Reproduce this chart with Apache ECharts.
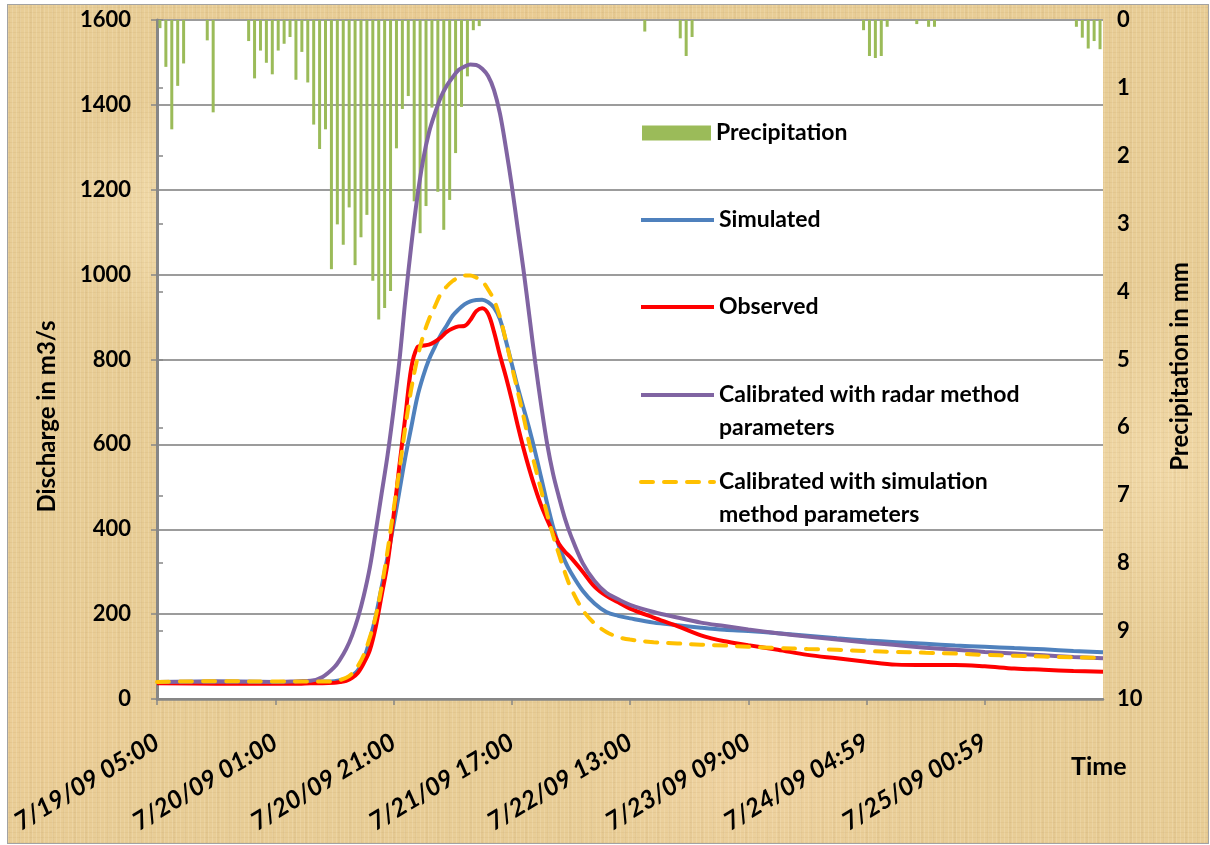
<!DOCTYPE html>
<html>
<head>
<meta charset="utf-8">
<title>Discharge and precipitation</title>
<script src="https://cdn.jsdelivr.net/npm/echarts@6/dist/echarts.min.js"></script>
<style>
  html, body { margin: 0; padding: 0; background: #ffffff; }
  #wrap { position: relative; width: 1210px; height: 845px; overflow: hidden; }
  /* parchment panel behind the chart */
  #paper {
    position: absolute; left: 7px; top: 4px; width: 1200px; height: 838px;
    border: 1px solid #a3a3a3;
    background-color: #e8cd96;
    background-image:
      repeating-linear-gradient(90deg, rgba(255,250,230,0.16) 0 1px, rgba(0,0,0,0) 1px 4px),
      repeating-linear-gradient(0deg, rgba(150,110,50,0.07) 0 1px, rgba(0,0,0,0) 1px 5px),
      repeating-linear-gradient(90deg, rgba(140,100,40,0.05) 0 2px, rgba(0,0,0,0) 2px 11px),
      radial-gradient(ellipse 260px 180px at 18% 25%, rgba(255,238,200,0.55), rgba(255,238,200,0) 70%),
      radial-gradient(ellipse 300px 160px at 62% 92%, rgba(245,215,170,0.55), rgba(245,215,170,0) 70%),
      radial-gradient(ellipse 220px 260px at 96% 55%, rgba(250,228,185,0.5), rgba(250,228,185,0) 70%),
      radial-gradient(ellipse 200px 200px at 3% 85%, rgba(240,205,150,0.5), rgba(240,205,150,0) 70%),
      radial-gradient(ellipse 260px 120px at 40% 4%, rgba(236,200,140,0.5), rgba(236,200,140,0) 70%);
  }
  #chart { position: absolute; left: 0; top: 0; width: 1210px; height: 845px; }
</style>
</head>
<body>
<div id="wrap">
  <div id="paper"></div>
  <div id="chart"></div>
</div>
<script>
// Hourly rainfall (mm), one value per hour starting 7/19/09 05:00
const precipitation = [
  0.12, 0.69, 1.61, 0.97, 0.64, 0, 0, 0, 0.30, 1.36,
  0, 0, 0, 0, 0, 0.31, 0.86, 0.45, 0.63, 0.80,
  0.45, 0.35, 0.25, 0.88, 0.47, 0.92, 1.54, 1.90, 1.61, 3.67,
  3.01, 3.31, 2.76, 3.61, 3.20, 2.87, 3.84, 4.41, 4.24, 3.99,
  1.89, 1.31, 1.12, 2.67, 3.14, 2.74, 1.29, 2.53, 3.09, 2.65,
  1.96, 1.28, 0.83, 0.15, 0.09, 0, 0, 0, 0, 0,
  0, 0, 0, 0, 0, 0, 0, 0, 0, 0,
  0, 0, 0, 0, 0, 0, 0, 0, 0, 0,
  0, 0, 0.17, 0, 0, 0, 0, 0, 0.27, 0.53,
  0.25, 0, 0, 0, 0, 0, 0, 0, 0, 0,
  0, 0, 0, 0, 0, 0, 0, 0, 0, 0,
  0, 0, 0, 0, 0, 0, 0, 0, 0, 0.15,
  0.53, 0.56, 0.53, 0.10, 0, 0, 0, 0, 0.06, 0,
  0.10, 0.10, 0, 0, 0, 0, 0, 0, 0, 0,
  0, 0, 0, 0, 0, 0, 0, 0, 0, 0,
  0, 0, 0, 0, 0, 0.10, 0.26, 0.42, 0.31, 0.43
];

// Hours since 7/19/09 05:00 at which the hydrographs are given
const hours = [
  0, 10, 20, 24, 26, 28, 30, 31, 32, 33, 34, 35, 36, 37, 38, 39, 40, 41, 42, 43,
  44, 45, 46, 47, 48, 49, 50, 51, 52, 53, 54, 55, 56, 57, 58, 59, 60, 61, 62, 63,
  64, 65, 66, 67, 68, 69, 70, 72, 74, 76, 78, 80, 84, 88, 92, 96, 100, 105, 110, 115,
  120, 125, 130, 135, 140, 145, 150, 155, 160
];

// Discharge (m3/s)
const simulated = [
  40, 41, 40, 40, 40, 41, 42, 44, 48, 55, 68, 95, 140, 195, 265, 335, 410, 490, 570, 640,
  710, 760, 800, 830, 858, 880, 903, 918, 930, 937, 940, 941, 935, 922, 895, 845, 790, 735, 685, 635,
  580, 520, 460, 405, 360, 325, 298, 255, 225, 205, 196, 190, 180, 174, 168, 163, 160, 155, 149, 143,
  138, 134, 130, 126, 123, 120, 117, 113, 110
];
const observed = [
  37, 36, 36, 36, 37, 37, 38, 40, 43, 50, 62, 85, 115, 170, 245, 320, 430, 550, 665, 780,
  828, 833, 835, 842, 852, 865, 873, 878, 879, 893, 914, 921, 908, 865, 810, 760, 705, 645, 590, 540,
  495, 455, 422, 392, 365, 347, 333, 300, 265, 243, 228, 213, 192, 172, 150, 136, 127, 116, 104, 96,
  88, 81, 80, 80, 77, 72, 69, 66, 64
];
const radarCalibrated = [
  40, 41, 40, 42, 43, 52, 75, 94, 118, 150, 192, 245, 310, 395, 485, 575, 680, 797, 940, 1068,
  1180, 1270, 1335, 1380, 1418, 1445, 1465, 1482, 1490, 1495, 1494, 1485, 1468, 1435, 1380, 1300, 1210, 1110, 1010, 900,
  790, 690, 600, 530, 475, 425, 385, 320, 278, 250, 235, 222, 205, 192, 180, 172, 164, 155, 147, 140,
  133, 127, 121, 116, 111, 107, 103, 99, 96
];
const simulationCalibrated = [
  40, 42, 41, 41, 41, 41, 42, 45, 50, 60, 78, 105, 145, 195, 265, 350, 445, 540, 640, 730,
  800, 855, 895, 925, 955, 972, 985, 993, 998, 998, 993, 985, 965, 940, 900, 845, 785, 725, 665, 600,
  545, 490, 435, 385, 340, 298, 262, 210, 178, 158, 146, 140, 134, 131, 128, 126, 123, 120, 118, 116,
  113, 111, 109, 107, 104, 102, 100, 98, 97
];

// Date labels every 20 hours along the time axis
const timeLabels = [
  '7/19/09 05:00', '7/20/09 01:00', '7/20/09 21:00', '7/21/09 17:00',
  '7/22/09 13:00', '7/23/09 09:00', '7/24/09 04:59', '7/25/09 00:59'
];

const NAMES = {
  precip: 'Precipitation',
  sim: 'Simulated',
  obs: 'Observed',
  radar: 'Calibrated with radar method parameters',
  simcal: 'Calibrated with simulation method parameters'
};

const FONT = 'Lato, "Open Sans", sans-serif';
const AXIS_GREY = '#878787';
const LEGEND_FONT = 23;
const LEGEND_LINE = 33;

const pair = (vals) => hours.map((h, i) => [h, vals[i]]);
const precipBars = precipitation.map((v, i) => [i + 0.5, v]);

const textBase = { fontFamily: FONT, fontWeight: 'bold', color: '#000', fontSize: 20 };

// one legend block per entry so each sits at its own height, like the stacked key
function legendEntry(name, centerY, opts) {
  const twoLines = opts && opts.breakAt;
  const lh = twoLines ? LEGEND_LINE : 28;
  const base = {
    data: [name],
    orient: 'vertical',
    left: 639,
    top: twoLines ? centerY - 1.5 * lh : centerY - lh / 2,
    padding: 0,
    itemWidth: 73,
    itemHeight: 14,
    selectedMode: false,
    textStyle: Object.assign({}, textBase, { fontSize: LEGEND_FONT, lineHeight: lh }),
    lineStyle: { width: 4 },
    itemStyle: { opacity: 0 }
  };
  if (twoLines) {
    // empty first row keeps the key line level with the first row of text
    base.formatter = (n) => '\n' + n.slice(0, opts.breakAt) + '\n' + n.slice(opts.breakAt + 1);
  }
  return Object.assign(base, (opts && opts.extra) || {});
}

const simcalBreak = NAMES.simcal.lastIndexOf(' ', NAMES.simcal.lastIndexOf(' ') - 1);

const chart = echarts.init(document.getElementById('chart'), null, { renderer: 'canvas' });

chart.setOption({
  backgroundColor: 'transparent',
  animation: false,
  title: {
    text: 'Time',
    left: 1071,
    top: 754,
    padding: 0,
    textStyle: Object.assign({}, textBase, { fontSize: 25 })
  },
  legend: [
    legendEntry(NAMES.precip, 133, { extra: { left: 642, itemWidth: 69, itemHeight: 15, icon: 'rect', itemStyle: {} } }),
    legendEntry(NAMES.sim, 220),
    legendEntry(NAMES.obs, 307),
    legendEntry(NAMES.radar, 395, { breakAt: NAMES.radar.lastIndexOf(' ') }),
    legendEntry(NAMES.simcal, 482, { breakAt: simcalBreak })
  ],
  grid: {
    left: 157, right: 107, top: 20, bottom: 146,
    show: true, backgroundColor: '#ffffff', borderWidth: 0
  },
  xAxis: [{
    type: 'value',
    min: 0, max: 160, interval: 20,
    axisLine: { show: true, onZero: false, lineStyle: { color: AXIS_GREY, width: 2 } },
    axisTick: { show: true, length: 6, lineStyle: { color: AXIS_GREY, width: 1.5 } },
    splitLine: { show: false },
    axisLabel: {
      rotate: 31,
      margin: 41,
      fontFamily: FONT, fontWeight: 'bold', fontStyle: 'italic', fontSize: 25, color: '#000',
      showMaxLabel: false,
      formatter: (v) => timeLabels[Math.round(v / 20)] || ''
    }
  }, {
    type: 'value', position: 'top', min: 0, max: 160,
    axisLine: { show: true, lineStyle: { color: AXIS_GREY, width: 2.5 } },
    axisTick: { show: false }, axisLabel: { show: false }, splitLine: { show: false }
  }],
  yAxis: [{
    type: 'value',
    position: 'left',
    min: 0, max: 1600, interval: 200,
    name: 'Discharge in m3/s',
    nameLocation: 'middle',
    nameRotate: 90,
    nameGap: 98,
    nameTextStyle: Object.assign({}, textBase, { fontSize: 24, padding: [0, 114, 0, 0] }),
    axisLine: { show: true, lineStyle: { color: AXIS_GREY, width: 2 } },
    axisTick: { show: true, length: 6, lineStyle: { color: AXIS_GREY, width: 1.5 } },
    splitLine: { show: true, lineStyle: { color: '#9c9c9c', width: 2 } },
    axisLabel: Object.assign({}, textBase, { fontSize: 22, margin: 26, formatter: (v) => String(v) })
  }, {
    type: 'value',
    position: 'right',
    inverse: true,
    min: 0, max: 10, interval: 1,
    name: 'Precipitation in mm',
    nameLocation: 'middle',
    nameRotate: 90,
    nameGap: 65,
    nameTextStyle: Object.assign({}, textBase, { fontSize: 24, padding: [0, 14, 0, 0] }),
    axisLine: { show: true, lineStyle: { color: AXIS_GREY, width: 3 } },
    axisTick: { show: true, length: 6, lineStyle: { color: AXIS_GREY, width: 1.5 } },
    splitLine: { show: false },
    axisLabel: Object.assign({}, textBase, { fontSize: 22, margin: 14 })
  }],
  series: [{
    name: NAMES.precip,
    type: 'bar',
    xAxisIndex: 0,
    yAxisIndex: 1,
    barWidth: 3,
    itemStyle: { color: '#9bbb59' },
    data: precipBars,
    z: 1
  }, {
    name: NAMES.sim,
    type: 'line',
    smooth: 0.35,
    symbol: 'none',
    lineStyle: { color: '#4f81bd', width: 4 },
    itemStyle: { color: '#4f81bd' },
    data: pair(simulated),
    z: 2
  }, {
    name: NAMES.obs,
    type: 'line',
    smooth: 0.35,
    symbol: 'none',
    lineStyle: { color: '#ff0000', width: 4 },
    itemStyle: { color: '#ff0000' },
    data: pair(observed),
    z: 3
  }, {
    name: NAMES.radar,
    type: 'line',
    smooth: 0.35,
    symbol: 'none',
    lineStyle: { color: '#8064a2', width: 4 },
    itemStyle: { color: '#8064a2' },
    data: pair(radarCalibrated),
    z: 4
  }, {
    name: NAMES.simcal,
    type: 'line',
    smooth: 0.35,
    symbol: 'none',
    lineStyle: { color: '#ffc000', width: 4, type: [12, 11], cap: 'round' },
    itemStyle: { color: '#ffc000' },
    data: pair(simulationCalibrated),
    z: 5
  }]
});
</script>
</body>
</html>
